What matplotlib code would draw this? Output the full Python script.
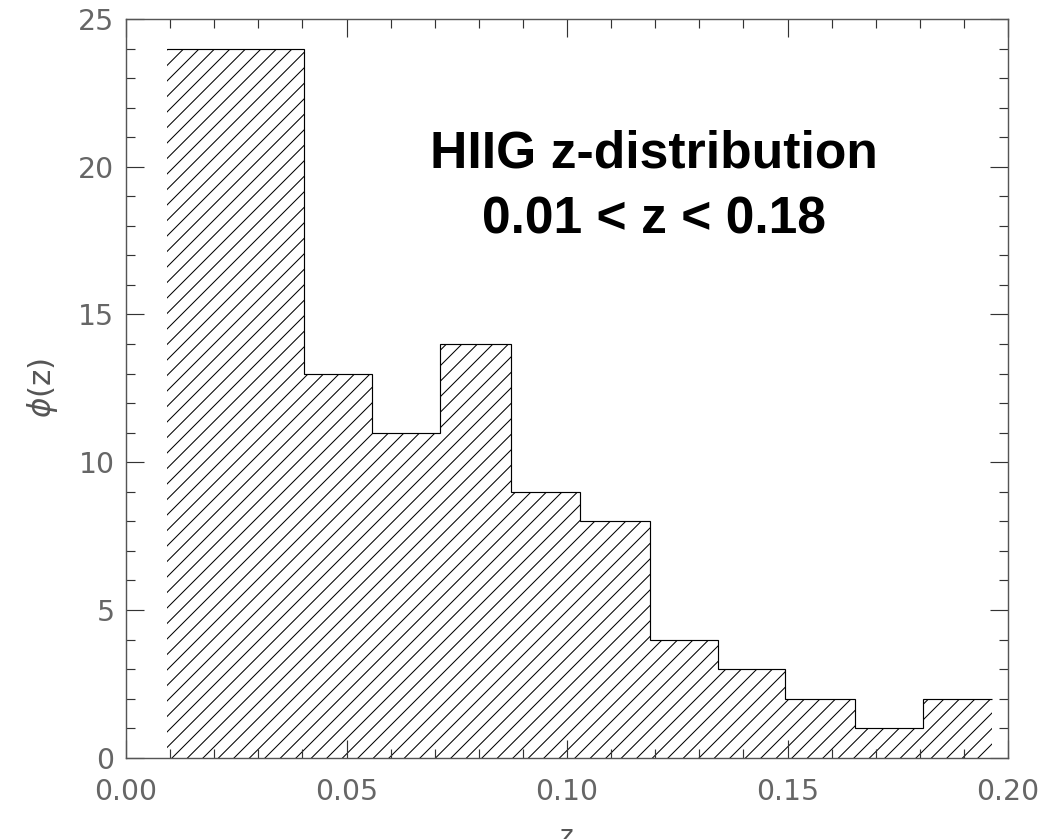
import matplotlib
matplotlib.use('Agg')
import matplotlib.pyplot as plt
from matplotlib.ticker import MultipleLocator

# histogram of HII galaxy redshifts
edges = [0.0092, 0.0404, 0.0558, 0.0712, 0.0872, 0.1029, 0.1188,
         0.1342, 0.1494, 0.1652, 0.1808, 0.1964]
counts = [24, 13, 11, 14, 9, 8, 4, 3, 2, 1, 2]

xticks = [0.00, 0.05, 0.10, 0.15, 0.20]
yticks = [0, 5, 10, 15, 20, 25]

plt.rcParams['hatch.linewidth'] = 0.8
plt.rcParams['font.family'] = ['DejaVu Sans']
plt.rcParams['mathtext.fontset'] = 'dejavusans'

dpi = 93
fig = plt.figure(figsize=(1045 / dpi, 839 / dpi), dpi=dpi)
ax = fig.add_axes([0.1206, 0.0969, 0.844, 0.8805])

ax.stairs(counts, edges, fill=True, hatch='//', facecolor='none',
          edgecolor='black', linewidth=0)
ax.stairs(counts, edges, baseline=None, color='black', linewidth=0.9)

ax.set_xlim(0, 0.2)
ax.set_ylim(0, 25)
ax.set_xticks(xticks)
ax.set_xticklabels(['%.2f' % v for v in xticks])
ax.set_yticks(yticks)
ax.xaxis.set_minor_locator(MultipleLocator(0.01))
ax.yaxis.set_minor_locator(MultipleLocator(1))

ax.tick_params(which='both', direction='in', top=True, right=True,
               color='#333333', width=0.9)
ax.tick_params(which='major', length=14, labelsize=22, labelcolor='#666666')
ax.tick_params(which='minor', length=7)
ax.tick_params(axis='x', which='major', pad=16)
ax.tick_params(axis='y', which='major', pad=9)

for s in ax.spines.values():
    s.set_color('#555555')
    s.set_linewidth(1.1)

ax.set_ylabel(r'$\phi$(z)', fontsize=24, color='#555555')
ax.yaxis.set_label_coords(-0.075, 0.5)
ax.set_xlabel('z', fontsize=20, color='#555555', va='top')
ax.xaxis.set_label_coords(0.5, -0.09)

ax.text(0.1197, 21.25, 'HIIG z-distribution\n0.01 < z < 0.18',
        ha='center', va='top', multialignment='center',
        fontsize=40, fontweight='bold', family='Liberation Sans',
        linespacing=1.45)

fig.savefig('out.png', dpi=dpi)
